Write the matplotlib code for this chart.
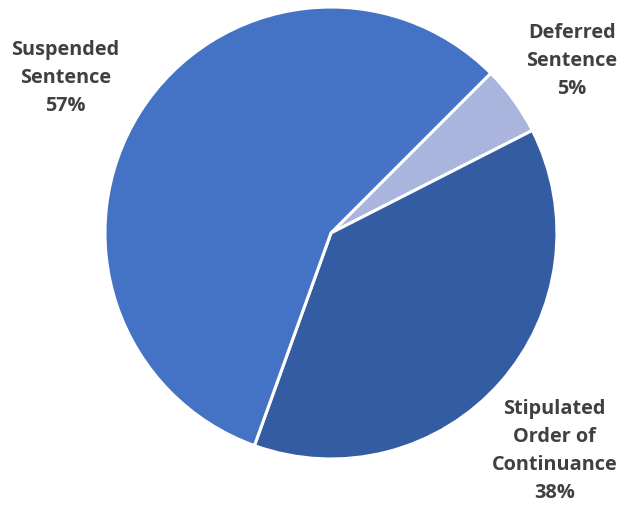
import matplotlib.pyplot as plt

labels = ["Deferred\nSentence", "Stipulated\nOrder of\nContinuance", "Suspended\nSentence"]
shares = [5, 38, 57]
colors = ["#A9B5DD", "#335CA3", "#4472C4"]

# label centres in pie units (radius = 1)
label_pos = [(1.066, 0.765), (0.99, -0.96), (-1.175, 0.69)]

fig = plt.figure(figsize=(6.26, 5.06), dpi=100)
ax = fig.add_axes([0.1677, 0.0909, 0.722, 0.8933])

ax.pie(shares, colors=colors, startangle=45, counterclock=False, radius=1,
       wedgeprops=dict(edgecolor="white", linewidth=2.2))
ax.set_xlim(-1, 1)
ax.set_ylim(-1, 1)
ax.set_aspect("equal")
ax.axis("off")

for lab, val, (x, y) in zip(labels, shares, label_pos):
    ax.text(x, y, f"{lab}\n{val}%", ha="center", va="center", fontsize=14.3,
            fontweight="bold", color="#404040", family="Open Sans",
            linespacing=1.55)

fig.savefig("out.png", dpi=100)
